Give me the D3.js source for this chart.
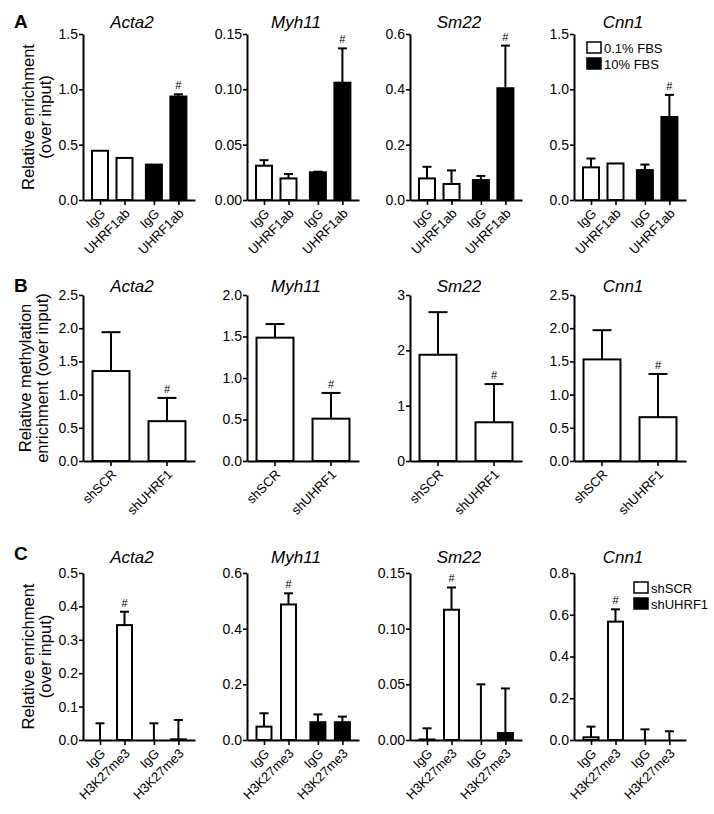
<!DOCTYPE html>
<html><head><meta charset="utf-8">
<script src="https://cdn.jsdelivr.net/npm/d3@7"></script>
<style>
body{margin:0;background:#fff}
svg{display:block}
text{font-family:"Liberation Sans",Arial,Helvetica,sans-serif;fill:#000}
</style>
</head><body>
<svg id="chart" width="714" height="814"></svg>
<script>
// ---------- DATA ----------
const genes = ["Acta2", "Myh11", "Sm22", "Cnn1"];

// Panel A: ChIP, UHRF1 antibody, 0.1% vs 10% FBS
const aLabels = ["IgG", "UHRF1ab", "IgG", "UHRF1ab"];
const aSeries = ["0.1% FBS", "0.1% FBS", "10% FBS", "10% FBS"];
const aMeans = [
  [0.445, 0.38, 0.32, 0.935],
  [0.031, 0.0195, 0.025, 0.106],
  [0.078, 0.058, 0.072, 0.404],
  [0.295, 0.33, 0.27, 0.75]
];
const aErrs = [
  [0, 0, 0, 0.02],
  [0.005, 0.004, 0.0006, 0.031],
  [0.042, 0.049, 0.015, 0.154],
  [0.08, 0, 0.05, 0.2]
];
const aTicks = [
  ["0.0", "0.5", "1.0", "1.5"],
  ["0.00", "0.05", "0.10", "0.15"],
  ["0.0", "0.2", "0.4", "0.6"],
  ["0.0", "0.5", "1.0", "1.5"]
];
const aSig = [3, 3, 3, 3];

// Panel B: methylation enrichment, shSCR vs shUHRF1
const bLabels = ["shSCR", "shUHRF1"];
const bMeans = [
  [1.355, 0.60],
  [1.486, 0.51],
  [1.92, 0.70],
  [1.53, 0.66]
];
const bErrs = [
  [0.585, 0.35],
  [0.164, 0.31],
  [0.77, 0.69],
  [0.44, 0.65]
];
const bTicks = [
  ["0.0", "0.5", "1.0", "1.5", "2.0", "2.5"],
  ["0.0", "0.5", "1.0", "1.5", "2.0"],
  ["0", "1", "2", "3"],
  ["0.0", "0.5", "1.0", "1.5", "2.0", "2.5"]
];
const bSig = [1, 1, 1, 1];

// Panel C: H3K27me3 ChIP, shSCR vs shUHRF1
const cLabels = ["IgG", "H3K27me3", "IgG", "H3K27me3"];
const cSeries = ["shSCR", "shSCR", "shUHRF1", "shUHRF1"];
const cMeans = [
  [0, 0.344, 0, 0.002],
  [0.048, 0.487, 0.064, 0.064],
  [0.0005, 0.117, 0, 0.0063],
  [0.013, 0.567, 0, 0]
];
const cErrs = [
  [0.05, 0.04, 0.05, 0.058],
  [0.048, 0.04, 0.028, 0.02],
  [0.01, 0.02, 0.05, 0.04],
  [0.051, 0.059, 0.051, 0.042]
];
const cTicks = [
  ["0.0", "0.1", "0.2", "0.3", "0.4", "0.5"],
  ["0.0", "0.2", "0.4", "0.6"],
  ["0.00", "0.05", "0.10", "0.15"],
  ["0.0", "0.2", "0.4", "0.6", "0.8"]
];
const cSig = [1, 1, 1, 1];

const seriesFill = {"0.1% FBS": "#fff", "10% FBS": "#000", "shSCR": "#fff", "shUHRF1": "#000"};

// ---------- LAYOUT ----------
const svg = d3.select("#chart");
const axisX = [83, 247, 410, 574];
const plotW = 112;
const FONT = '"Liberation Sans",Arial,Helvetica,sans-serif';

function groupedScale() {
  const slots = [0, 1, 2.2, 3.2];
  const x0 = 17, step = 24.5;
  const s = d3.scaleLinear().domain([(0 - x0) / step, (plotW - x0) / step]).range([0, plotW]);
  return {scale: s, pos: i => s(slots[i]), ticks: slots};
}

function drawPanel(opt) {
  const g = svg.append("g").attr("transform", `translate(${opt.ax},0)`);
  const tickVals = opt.ticks.map(Number);
  const y = d3.scaleLinear().domain([0, tickVals[tickVals.length - 1]]).range([opt.base, opt.top]);
  const cx = i => opt.band ? opt.band(opt.labels[i]) + opt.band.bandwidth() / 2 : opt.xs.pos(i);
  const bw = opt.band ? opt.band.bandwidth() : opt.bw;

  // x axis
  const xa = g.append("g").attr("transform", `translate(0,${opt.base})`);
  let xAxis;
  if (opt.band) {
    xAxis = d3.axisBottom(opt.band).tickFormat("");
  } else {
    xAxis = d3.axisBottom(opt.xs.scale).tickValues(opt.xs.ticks).tickFormat("");
  }
  xAxis.tickSize(5).tickSizeOuter(0);
  xa.call(xAxis);
  xa.select(".domain").attr("stroke-width", 2);
  xa.selectAll(".tick line").attr("stroke-width", 1.6);
  opt.labels.forEach((lab, i) => {
    const lg = g.append("g").attr("transform", `translate(${cx(i) + 3},${opt.base + 11}) rotate(-45)`);
    lg.append("text").attr("x", 0).attr("y", 0).attr("dy", "0.35em")
      .attr("text-anchor", "end").style("font-size", "13px").text(lab);
  });

  // bars + error bars
  opt.means.forEach((v, i) => {
    if (v > 0) {
      g.append("rect")
        .attr("x", cx(i) - bw / 2).attr("y", y(v))
        .attr("width", bw).attr("height", opt.base - y(v))
        .attr("fill", opt.fills[i]).attr("stroke", "#000").attr("stroke-width", 2);
    }
    const e = opt.errs[i];
    if (e > 0) {
      g.append("line").attr("x1", cx(i)).attr("x2", cx(i))
        .attr("y1", y(v)).attr("y2", y(v + e))
        .attr("stroke", "#000").attr("stroke-width", 2);
      g.append("line").attr("x1", cx(i) - opt.cap / 2).attr("x2", cx(i) + opt.cap / 2)
        .attr("y1", y(v + e)).attr("y2", y(v + e))
        .attr("stroke", "#000").attr("stroke-width", 2);
    }
    if (i === opt.sig) {
      g.append("text").attr("x", cx(i)).attr("y", y(v + e) - 5)
        .attr("text-anchor", "middle").style("font-size", "11px").text("#");
    }
  });

  // y axis
  const ya = g.append("g");
  ya.call(d3.axisLeft(y).tickValues(tickVals).tickFormat((d, i) => opt.ticks[i]).tickSize(4).tickSizeOuter(0).tickPadding(1));
  ya.select(".domain").attr("stroke-width", 2);
  ya.selectAll(".tick line").attr("stroke-width", 1.6);
  ya.selectAll(".tick text").style("font-size", "14px").style("font-family", FONT);

  // title
  svg.append("text").attr("x", opt.ax + 49).attr("y", opt.titleY)
    .attr("text-anchor", "middle").style("font-size", "17px").style("font-style", "italic")
    .text(opt.title);
}

const rows = [
  {top: 34, base: 200, titleY: 28},
  {top: 295, base: 461, titleY: 292},
  {top: 573, base: 740, titleY: 563}
];

const gs = groupedScale();
genes.forEach((gene, k) => {
  drawPanel({
    ax: axisX[k], top: rows[0].top, base: rows[0].base, titleY: rows[0].titleY, title: gene,
    ticks: aTicks[k], labels: aLabels, means: aMeans[k], errs: aErrs[k],
    fills: aSeries.map(s => seriesFill[s]), xs: gs, bw: 16, cap: 9, sig: aSig[k]
  });
  const band = d3.scaleBand().domain(bLabels).range([0, plotW]).paddingInner(0.34).paddingOuter(0.17);
  drawPanel({
    ax: axisX[k], top: rows[1].top, base: rows[1].base, titleY: rows[1].titleY, title: gene,
    ticks: bTicks[k], labels: bLabels, means: bMeans[k], errs: bErrs[k],
    fills: bLabels.map(() => "#fff"), band: band, cap: 19, sig: bSig[k]
  });
  drawPanel({
    ax: axisX[k], top: rows[2].top, base: rows[2].base, titleY: rows[2].titleY, title: gene,
    ticks: cTicks[k], labels: cLabels, means: cMeans[k], errs: cErrs[k],
    fills: cSeries.map(s => seriesFill[s]), xs: gs, bw: 15, cap: 9, sig: cSig[k]
  });
});

// panel letters
[["A", 28], ["B", 292], ["C", 560]].forEach(([t, yy]) => {
  svg.append("text").attr("x", 14).attr("y", yy).style("font-size", "19px").style("font-weight", "bold").text(t);
});

// y axis titles
function yTitle(lines, xs, cy) {
  lines.forEach((t, i) => {
    svg.append("text").attr("transform", `translate(${xs[i]},${cy}) rotate(-90)`)
      .attr("text-anchor", "middle").style("font-size", "16.5px").text(t);
  });
}
yTitle(["Relative enrichment", "(over input)"], [34, 51], (rows[0].top + rows[0].base) / 2);
yTitle(["Relative methylation", "enrichment (over input)"], [31, 48], (rows[1].top + rows[1].base) / 2);
yTitle(["Relative enrichment", "(over input)"], [34, 51], (rows[2].top + rows[2].base) / 2);

// legends
function legend(x, y0, names) {
  names.forEach((n, i) => {
    svg.append("rect").attr("x", x).attr("y", y0 + i * 16).attr("width", 14).attr("height", 11)
      .attr("fill", seriesFill[n]).attr("stroke", "#000").attr("stroke-width", 1.5);
    svg.append("text").attr("x", x + 17).attr("y", y0 + i * 16 + 10.5)
      .style("font-size", "13px").text(n);
  });
}
legend(587, 42, ["0.1% FBS", "10% FBS"]);
legend(634, 582, ["shSCR", "shUHRF1"]);
</script>
</body></html>
